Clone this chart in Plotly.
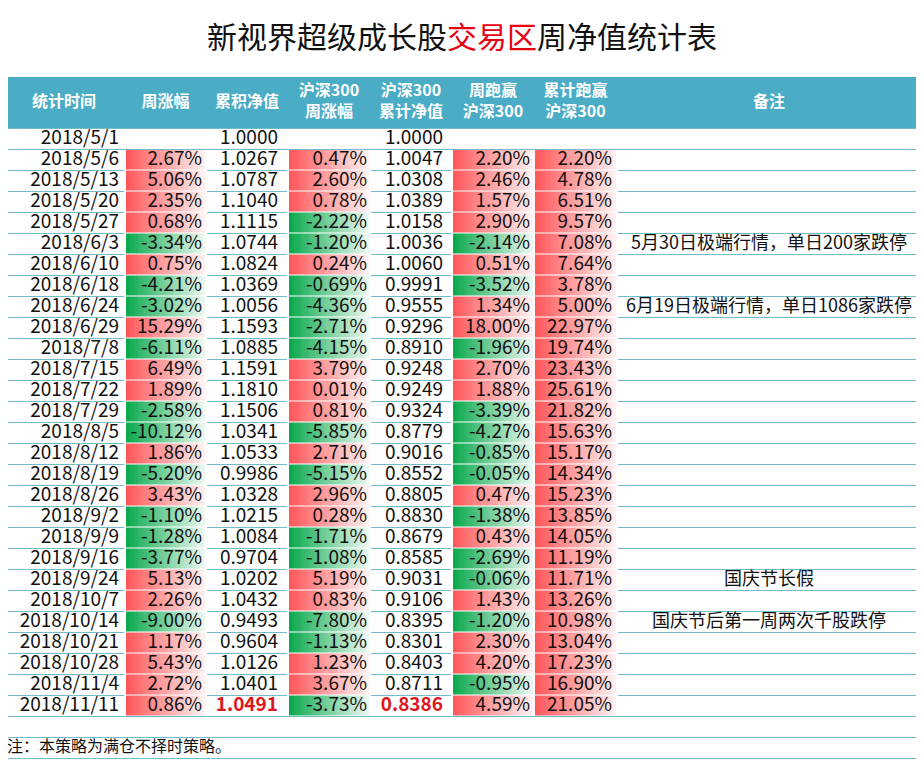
import plotly.graph_objects as go

# ---------------- data ----------------
headers = ["统计时间", "周涨幅", "累积净值", "沪深300<br>周涨幅", "沪深300<br>累计净值",
           "周跑赢<br>沪深300", "累计跑赢<br>沪深300", "备注"]

dates = ["2018/5/1", "2018/5/6", "2018/5/13", "2018/5/20", "2018/5/27", "2018/6/3", "2018/6/10",
         "2018/6/18", "2018/6/24", "2018/6/29", "2018/7/8", "2018/7/15", "2018/7/22", "2018/7/29",
         "2018/8/5", "2018/8/12", "2018/8/19", "2018/8/26", "2018/9/2", "2018/9/9", "2018/9/16",
         "2018/9/24", "2018/10/7", "2018/10/14", "2018/10/21", "2018/10/28", "2018/11/4", "2018/11/11"]

weekly_chg = [None, 2.67, 5.06, 2.35, 0.68, -3.34, 0.75, -4.21, -3.02, 15.29, -6.11, 6.49, 1.89, -2.58,
              -10.12, 1.86, -5.20, 3.43, -1.10, -1.28, -3.77, 5.13, 2.26, -9.00, 1.17, 5.43, 2.72, 0.86]

nav = [1.0000, 1.0267, 1.0787, 1.1040, 1.1115, 1.0744, 1.0824, 1.0369, 1.0056, 1.1593, 1.0885, 1.1591,
       1.1810, 1.1506, 1.0341, 1.0533, 0.9986, 1.0328, 1.0215, 1.0084, 0.9704, 1.0202, 1.0432, 0.9493,
       0.9604, 1.0126, 1.0401, 1.0491]

hs300_chg = [None, 0.47, 2.60, 0.78, -2.22, -1.20, 0.24, -0.69, -4.36, -2.71, -4.15, 3.79, 0.01, 0.81,
             -5.85, 2.71, -5.15, 2.96, 0.28, -1.71, -1.08, 5.19, 0.83, -7.80, -1.13, 1.23, 3.67, -3.73]

hs300_nav = [1.0000, 1.0047, 1.0308, 1.0389, 1.0158, 1.0036, 1.0060, 0.9991, 0.9555, 0.9296, 0.8910,
             0.9248, 0.9249, 0.9324, 0.8779, 0.9016, 0.8552, 0.8805, 0.8830, 0.8679, 0.8585, 0.9031,
             0.9106, 0.8395, 0.8301, 0.8403, 0.8711, 0.8386]

excess_week = [None, 2.20, 2.46, 1.57, 2.90, -2.14, 0.51, -3.52, 1.34, 18.00, -1.96, 2.70, 1.88, -3.39,
               -4.27, -0.85, -0.05, 0.47, -1.38, 0.43, -2.69, -0.06, 1.43, -1.20, 2.30, 4.20, -0.95, 4.59]

excess_cum = [None, 2.20, 4.78, 6.51, 9.57, 7.08, 7.64, 3.78, 5.00, 22.97, 19.74, 23.43, 25.61, 21.82,
              15.63, 15.17, 14.34, 15.23, 13.85, 14.05, 11.19, 11.71, 13.26, 10.98, 13.04, 17.23, 16.90, 21.05]

remarks = {5: "5月30日极端行情，单日200家跌停",
           8: "6月19日极端行情，单日1086家跌停",
           21: "国庆节长假",
           23: "国庆节后第一周两次千股跌停"}

title_parts = ["新视界超级成长股", "交易区", "周净值统计表"]
note_text = "注：本策略为满仓不择时策略。"

# ---------------- layout constants ----------------
W, H = 924, 762
OFF = 8  # page body margin offset compensation
col_edges = [3, 125, 206, 288, 370, 452, 534, 617, 921]
HEAD_TOP, HEAD_BOT = 77, 128.5
ROW_H = 21
FONT = "Microsoft YaHei, Noto Sans CJK SC, sans-serif"
TEAL = "#4BACC6"
LINE = "#74BACB"
RED = "#FF5558"
GREEN = "#08A84C"
n = len(dates)


def row_top(i):
    return HEAD_BOT + ROW_H * i


def row_mid(i):
    return row_top(i) + ROW_H / 2


fig = go.Figure()

# ---------------- gradient-filled cells (heatmaps) ----------------
NS = 30
colorscale = [[0.0, GREEN], [0.5, "#FFFFFF"], [1.0, RED]]
for ci, series in [(1, weekly_chg), (3, hs300_chg), (5, excess_week), (6, excess_cum)]:
    x0, x1 = col_edges[ci] + 1, col_edges[ci + 1] - 1
    xe = [x0 + (x1 - x0) * k / NS for k in range(NS + 1)]
    ye = [row_top(i) for i in range(n + 1)]
    z = []
    for v in series:
        if v is None:
            z.append([None] * NS)
        else:
            s = 1 if v >= 0 else -1
            z.append([s * (1.0 - 0.93 * (k + 0.5) / NS) for k in range(NS)])
    fig.add_trace(go.Heatmap(x=xe, y=ye, z=z, zmin=-1, zmax=1, colorscale=colorscale,
                             showscale=False, hoverinfo="skip", ygap=1, zsmooth=False))

# ---------------- grid lines ----------------
lx, ly = [], []
plain_cols = [0, 2, 4, 7]
for i in range(n + 3):
    y = row_top(i)
    if i in (0, 1) or i >= n:
        lx += [col_edges[0], col_edges[-1], None]
        ly += [y, y, None]
    else:
        for c in plain_cols:
            lx += [col_edges[c] + (1 if c else 0), col_edges[c + 1] - (1 if c != 7 else 0), None]
            ly += [y, y, None]
for xv in (col_edges[0] + 0.5, col_edges[-1] - 0.5):
    lx += [xv, xv, None]
    ly += [HEAD_BOT, row_top(n + 2), None]
fig.add_trace(go.Scatter(x=lx, y=ly, mode="lines", line=dict(color=LINE, width=1),
                         hoverinfo="skip"))

# ---------------- header band ----------------
fig.add_shape(type="rect", x0=col_edges[0], x1=col_edges[-1], y0=HEAD_TOP, y1=HEAD_BOT,
              fillcolor=TEAL, line_width=0, layer="below")
fig.add_trace(go.Scatter(
    x=[(col_edges[c] + col_edges[c + 1]) / 2 for c in range(8)],
    y=[(HEAD_TOP + HEAD_BOT) / 2] * 8,
    text=["<b>%s</b>" % h for h in headers], mode="text", textposition="middle center",
    textfont=dict(family=FONT, size=16, color="white"), hoverinfo="skip"))


# ---------------- cell texts ----------------
def pct(v):
    return "" if v is None else "%.2f%%" % v


def add_col(ci, texts, pad, colors=None):
    fig.add_trace(go.Scatter(
        x=[col_edges[ci + 1] - pad] * n, y=[row_mid(i) for i in range(n)],
        text=texts, mode="text", textposition="middle left",
        textfont=dict(family=FONT, size=19, color=colors if colors else "#111111"),
        hoverinfo="skip"))


last_red = "#E0161C"
nav_txt = ["%.4f" % v for v in nav]
nav_txt[-1] = "<b>%s</b>" % nav_txt[-1]
hs_txt = ["%.4f" % v for v in hs300_nav]
hs_txt[-1] = "<b>%s</b>" % hs_txt[-1]
red_last = ["#111111"] * (n - 1) + [last_red]

add_col(0, dates, 6)
add_col(1, [pct(v) for v in weekly_chg], 4)
add_col(2, nav_txt, 10, red_last)
add_col(3, [pct(v) for v in hs300_chg], 3)
add_col(4, hs_txt, 9, red_last)
add_col(5, [pct(v) for v in excess_week], 4)
add_col(6, [pct(v) for v in excess_cum], 5)

rk = sorted(remarks)
fig.add_trace(go.Scatter(
    x=[(col_edges[7] + col_edges[8]) / 2] * len(rk), y=[row_mid(i) for i in rk],
    text=[remarks[i] for i in rk], mode="text", textposition="middle center",
    textfont=dict(family=FONT, size=18, color="#111111"), hoverinfo="skip"))

fig.add_trace(go.Scatter(
    x=[col_edges[0] + 4], y=[row_mid(n + 1)], text=[note_text], mode="text",
    textposition="middle right", textfont=dict(family=FONT, size=16, color="#111111"),
    hoverinfo="skip"))

# ---------------- title ----------------
fig.add_annotation(
    x=W / 2, y=35, xref="x", yref="y", showarrow=False,
    text="%s<span style='color:#E60012'>%s</span>%s" % tuple(title_parts),
    font=dict(family=FONT, size=30, color="#111111"))

fig.update_layout(
    width=W, height=H, margin=dict(l=0, r=0, t=0, b=0),
    paper_bgcolor="white", plot_bgcolor="white", showlegend=False,
    xaxis=dict(range=[OFF, W + OFF], visible=False, fixedrange=True),
    yaxis=dict(range=[H + OFF, OFF], visible=False, fixedrange=True),
)

fig.write_html("out.html")
